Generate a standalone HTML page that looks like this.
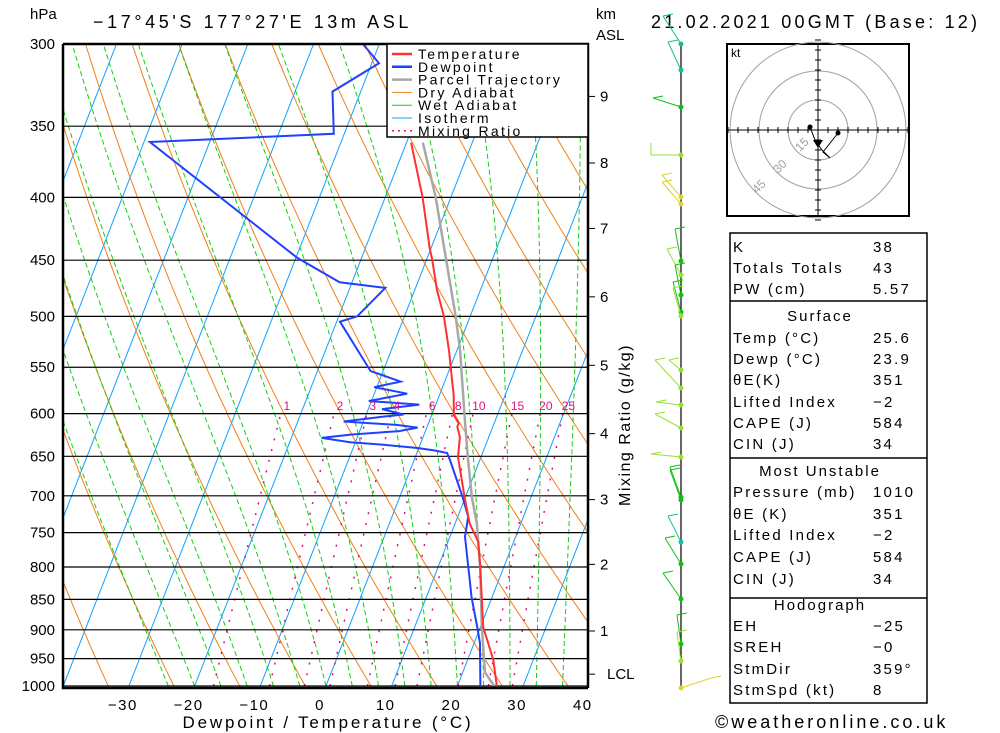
<!DOCTYPE html>
<html><head><meta charset="utf-8"><style>
html,body{margin:0;padding:0;background:#fff}
svg{display:block}
text{font-family:"Liberation Sans",sans-serif;fill:#000}
</style></head><body>
<svg id="chart" width="1000" height="733" viewBox="0 0 1000 733" xmlns="http://www.w3.org/2000/svg">
<defs><clipPath id="plotclip"><rect x="63" y="44" width="525" height="642"/></clipPath></defs>
<rect x="0" y="0" width="1000" height="733" fill="#fff"/>
<g id="bg" clip-path="url(#plotclip)"></g>
<g id="grid"></g>
<g id="profiles" clip-path="url(#plotclip)"></g>
<g id="axes"></g>
<text x="30" y="19" font-size="15">hPa</text>
<text x="93" y="28" font-size="18" letter-spacing="3.6">−17°45'S 177°27'E 13m ASL</text>
<text x="596" y="19" font-size="15">km</text>
<text x="596" y="40" font-size="15">ASL</text>
<text x="651" y="28" font-size="18" letter-spacing="3.2">21.02.2021 00GMT (Base: 12)</text>
<text x="328" y="728" font-size="17" letter-spacing="2.8" text-anchor="middle">Dewpoint / Temperature (°C)</text>
<text x="630" y="425" font-size="16" letter-spacing="1.5" text-anchor="middle" transform="rotate(-90 630 425)">Mixing Ratio (g/kg)</text>
<text x="715" y="728" font-size="18" letter-spacing="3">©weatheronline.co.uk</text>
<g id="legend">
<rect x="387" y="44" width="201" height="93" fill="#fff" stroke="#000" stroke-width="1.5"/>
</g>
<g id="winds"></g>
<g id="hodo"></g>
<g id="table"></g>
</svg>
<script>
const tempP=[1000,952,895,848,800,763,737,702,651,627,615,611,602,580,563,533,500,476,450,440,400,361];
const tempT=[26,23.9,20.4,18.5,16.4,14.6,12.2,9.9,6.5,5.6,4.6,4.6,3.4,2.2,1.0,-1.2,-4.0,-6.6,-9.1,-10.2,-14.3,-19.3];
const dewP=[1000,952,923,895,847,800,756,728,702,655,646,643,640,636,633,628,624,620,616,613,609,604,601,595,590,586,578,571,565,554,505,500,474,469,448,360.5,355,328,311,300];
const dewT=[23.5,21.9,20.9,19.5,16.9,14.6,12.3,11.6,9.6,5.5,4.6,2.6,-0.2,-5.6,-10.8,-15.4,-11,-4,-1.4,-4.6,-13,-8,-4.3,-7.9,-2.5,-10.4,-5,-10.4,-6.7,-11.9,-19.5,-17.2,-14.6,-21.9,-29.8,-59.1,-31.6,-34.3,-28.9,-32.5];
const parP=[1000,975,895,800,737,702,651,600,533,500,440,400,361];
const parT=[25.6,23.4,20.2,16.4,13.3,11.0,8.0,4.9,0.5,-2.2,-8.0,-12.3,-17.5];
const pLevels=[300,350,400,450,500,550,600,650,700,750,800,850,900,950,1000];
const tTicks=[-30,-20,-10,0,10,20,30,40];
const mixRatios=[1,2,3,4,6,8,10,15,20,25];
const kmLabels=["9","8","7","6","5","4","3","2","1","LCL"];
const kmP=[331,375,424,482,548,623,705,796,902,978];
const tableRows=[["K","38"],["Totals Totals","43"],["PW (cm)","5.57"],["#Surface",""],["Temp (°C)","25.6"],["Dewp (°C)","23.9"],["θE(K)","351"],["Lifted Index","−2"],["CAPE (J)","584"],["CIN (J)","34"],["#Most Unstable",""],["Pressure (mb)","1010"],["θE (K)","351"],["Lifted Index","−2"],["CAPE (J)","584"],["CIN (J)","34"],["#Hodograph",""],["EH","−25"],["SREH","−0"],["StmDir","359°"],["StmSpd (kt)","8"]];
const tableRowY=[247,268,289,316,338,359,380,402,423,444,471,492,514,535,557,579,605,626,647,669,690];
const tableSepY=[301,458,598];

const NS="http://www.w3.org/2000/svg";
function yP(p){return 44+Math.log(p/300)/Math.log(1000/300)*642;}
function xT(T,p){return 326+6.57*T+0.39*(686-yP(p));}
function mk(parent,tag,attrs){const e=document.createElementNS(NS,tag);for(const k in attrs)e.setAttribute(k,attrs[k]);parent.appendChild(e);return e;}
function pathFrom(ps,ts){let d="";for(let i=0;i<ps.length;i++){d+=(i?"L":"M")+xT(ts[i],ps[i]).toFixed(1)+" "+yP(ps[i]).toFixed(1);}return d;}

const bg=document.getElementById('bg');
for(let T=-120;T<=50;T+=10){const ln=mk(bg,'line',{x1:xT(T,1000),y1:yP(1000),x2:xT(T,300),y2:yP(300),stroke:'#10a0ff','stroke-width':1});

}
for(let th=230;th<=420;th+=10){let d="";for(let p=1000,i=0;p>=300;p-=10,i++){const T=th*Math.pow(p/1000,0.286)-273.15;d+=(i?"L":"M")+xT(T,p).toFixed(1)+" "+yP(p).toFixed(1);}
const e=mk(bg,'path',{d:d,fill:'none',stroke:'#f08018','stroke-width':1});

}
function es(T){return 6.112*Math.exp(17.67*T/(T+243.5));}
for(let T0=-24;T0<=36;T0+=4){let T=T0+273.15;let d="";let i=0;for(let p=1000;p>=300;p-=5){d+=(i?"L":"M")+xT(T-273.15,p).toFixed(1)+" "+yP(p).toFixed(1);i++;
const rs=0.622*es(T-273.15)/(p-es(T-273.15));const L=2.5e6,Rd=287,Cp=1005;
const dTdp=(Rd*T+L*rs)/(p*(Cp+L*L*rs*0.622/(Rd*T*T)));T-=dTdp*5;}
const e=mk(bg,'path',{d:d,fill:'none',stroke:'#10d010','stroke-width':1,'stroke-dasharray':'5,3'});

}
mixRatios.forEach(w=>{let d="";let i=0;for(let p=1000;p>=600;p-=10){const e=w*p/(622+w);const a=Math.log(e/6.112);const Td=243.5*a/(17.67-a);d+=(i?"L":"M")+xT(Td,p).toFixed(1)+" "+yP(p).toFixed(1);i++;}
const e=mk(bg,'path',{d:d,fill:'none',stroke:'#e0107a','stroke-width':1.5,'stroke-dasharray':'2,9'});


const ep=600*0.985;const ee=w*ep/(622+w);const a=Math.log(ee/6.112);const Td=243.5*a/(17.67-a);
const t=mk(document.getElementById('axes'),'text',{x:xT(Td,ep)+4,y:410,'font-size':12,'text-anchor':'middle',style:'fill:#e0107a'});t.textContent=w;

});

const grid=document.getElementById('grid');const axes=document.getElementById('axes');
pLevels.forEach(p=>{const y=yP(p);const l=mk(grid,'line',{x1:63,y1:y,x2:588,y2:y,stroke:'#000','stroke-width':1.2});


const t=mk(axes,'text',{x:55,y:y+5,'font-size':15,'text-anchor':'end'});t.textContent=p;

});
tTicks.forEach(T=>{const t=mk(axes,'text',{x:320+6.57*T,y:710,'font-size':15,'text-anchor':'middle','letter-spacing':'1.5'});t.textContent=(T<0?'−'+(-T):T);

});
kmP.forEach((p,i)=>{const y=yP(p);mk(axes,'line',{x1:588,y1:y,x2:595,y2:y,stroke:'#000','stroke-width':1});
const t=mk(axes,'text',{x:kmLabels[i]==='LCL'?607:600,y:y+5,'font-size':15});t.textContent=kmLabels[i];

});
const fr=mk(axes,'path',{d:'M63 44H588V688M63 44V688H588',fill:'none',stroke:'#000','stroke-width':2.5});



const prof=document.getElementById('profiles');
const pp=mk(prof,'path',{d:pathFrom(parP,parT),fill:'none',stroke:'#a8a8a8','stroke-width':2.5});


const dp=mk(prof,'path',{d:pathFrom(dewP,dewT),fill:'none',stroke:'#2040ff','stroke-width':2});


const tp=mk(prof,'path',{d:pathFrom(tempP,tempT),fill:'none',stroke:'#ff3030','stroke-width':2});



const leg=document.getElementById('legend');
const legItems=[["Temperature","#ff3030",2.5,""],["Dewpoint","#2040ff",2.5,""],["Parcel Trajectory","#a8a8a8",2.5,""],["Dry Adiabat","#f08018",1,""],["Wet Adiabat","#10d010",1,""],["Isotherm","#10a0ff",1,""],["Mixing Ratio","#e0107a",1.5,"2,4"]];
legItems.forEach((it,i)=>{const y=54+i*12.8;mk(leg,'line',{x1:392,y1:y,x2:412,y2:y,stroke:it[1],'stroke-width':it[2],'stroke-dasharray':it[3]||'none'});
const t=mk(leg,'text',{x:418,y:y+5,'font-size':14,'letter-spacing':'2.3'});t.textContent=it[0];

});

const winds=document.getElementById('winds');
mk(winds,'line',{x1:681,y1:44,x2:681,y2:690,stroke:'#000','stroke-width':1.2});
const barbY=[44,70,107,155,197,204,261,275,295,312,316,370,388,405,428,457,497,500,542,564,599,644,661,688];
const barbC=["#10c090","#10c090","#10c010","#98e030","#e0d030","#e0d030","#10c010","#98e030","#10c010","#10c010","#98e030","#98e030","#98e030","#98e030","#98e030","#98e030","#10c010","#10c010","#10c0a0","#10c010","#10c010","#10c010","#98e030","#e0d030"];
const barbDx=[-18,-13,-28,-30,-19,-19,-6,-14,-6,-8,-8,-12,-26,-25,-26,-30,-11,-11,-13,-16,-18,-4,-4,30];
const barbDy=[-28,-28,-9,0,-22,-22,-32,-26,-30,-30,-28,-10,-28,-3,-14,-3,-30,-30,-26,-26,-26,-29,-29,-10];
barbY.forEach((y,i)=>{const x2=681+barbDx[i],y2=y+barbDy[i];
const g=mk(winds,'g',{});


mk(g,'line',{x1:681,y1:y,x2:x2,y2:y2,stroke:barbC[i],'stroke-width':1});
mk(g,'line',{x1:x2,y1:y2,x2:x2+(barbDy[i]===0?0:10),y2:y2+(barbDy[i]===0?-12:-2),stroke:barbC[i],'stroke-width':1});
mk(g,'circle',{cx:681,cy:y,r:2.5,fill:barbC[i]});});

const h=document.getElementById('hodo');const cx=818,cy=130;
mk(h,'rect',{x:727,y:44,width:182,height:172,fill:'#fff',stroke:'#000','stroke-width':2});
[30,59,88].forEach(r=>mk(h,'circle',{cx:cx,cy:cy,r:r,fill:'none',stroke:'#a0a0a0','stroke-width':1}));
mk(h,'line',{x1:727,y1:cy,x2:909,y2:cy,stroke:'#000','stroke-width':1});
mk(h,'line',{x1:cx,y1:44,x2:cx,y2:216,stroke:'#000','stroke-width':1});
for(let k=-9;k<=9;k++){if(!k)continue;mk(h,'line',{x1:cx+k*10,y1:cy-3,x2:cx+k*10,y2:cy+3,stroke:'#000'});mk(h,'line',{x1:cx-3,y1:cy+k*10,x2:cx+3,y2:cy+k*10,stroke:'#000'});}
[["15",800,152],["30",778,174],["45",757,194]].forEach(a=>{const t=mk(h,'text',{x:a[1],y:a[2],'font-size':12,style:'fill:#a0a0a0',transform:'rotate(-45 '+a[1]+' '+a[2]+')'});t.textContent=a[0];});
const kt=mk(h,'text',{x:731,y:57,'font-size':12});kt.textContent='kt';
mk(h,'path',{d:'M810 127L815 140L822 150L830 158L823 152L838 133',fill:'none',stroke:'#000','stroke-width':1});
mk(h,'circle',{cx:810,cy:127,r:2.5,fill:'#000'});mk(h,'circle',{cx:838,cy:133,r:2.5,fill:'#000'});
mk(h,'path',{d:'M813 140H823L818 148Z',fill:'#000'});

const tb=document.getElementById('table');
mk(tb,'rect',{x:730,y:233,width:197,height:470,fill:'#fff',stroke:'#000','stroke-width':1.5});
tableSepY.forEach(y=>mk(tb,'line',{x1:730,y1:y,x2:927,y2:y,stroke:'#000','stroke-width':1.5}));
tableRows.forEach((r,i)=>{const yy=tableRowY[i];
if(r[0][0]==='#'){
const t=mk(tb,'text',{x:820,y:yy+5,'font-size':15,'text-anchor':'middle','letter-spacing':'2'});t.textContent=r[0].slice(1);

return;}
const t=mk(tb,'text',{x:733,y:yy+5,'font-size':15,'letter-spacing':'2.2'});t.textContent=r[0];


const v=mk(tb,'text',{x:873,y:yy+5,'font-size':15,'letter-spacing':'2.2'});v.textContent=r[1];

});
</script>
</body></html>
